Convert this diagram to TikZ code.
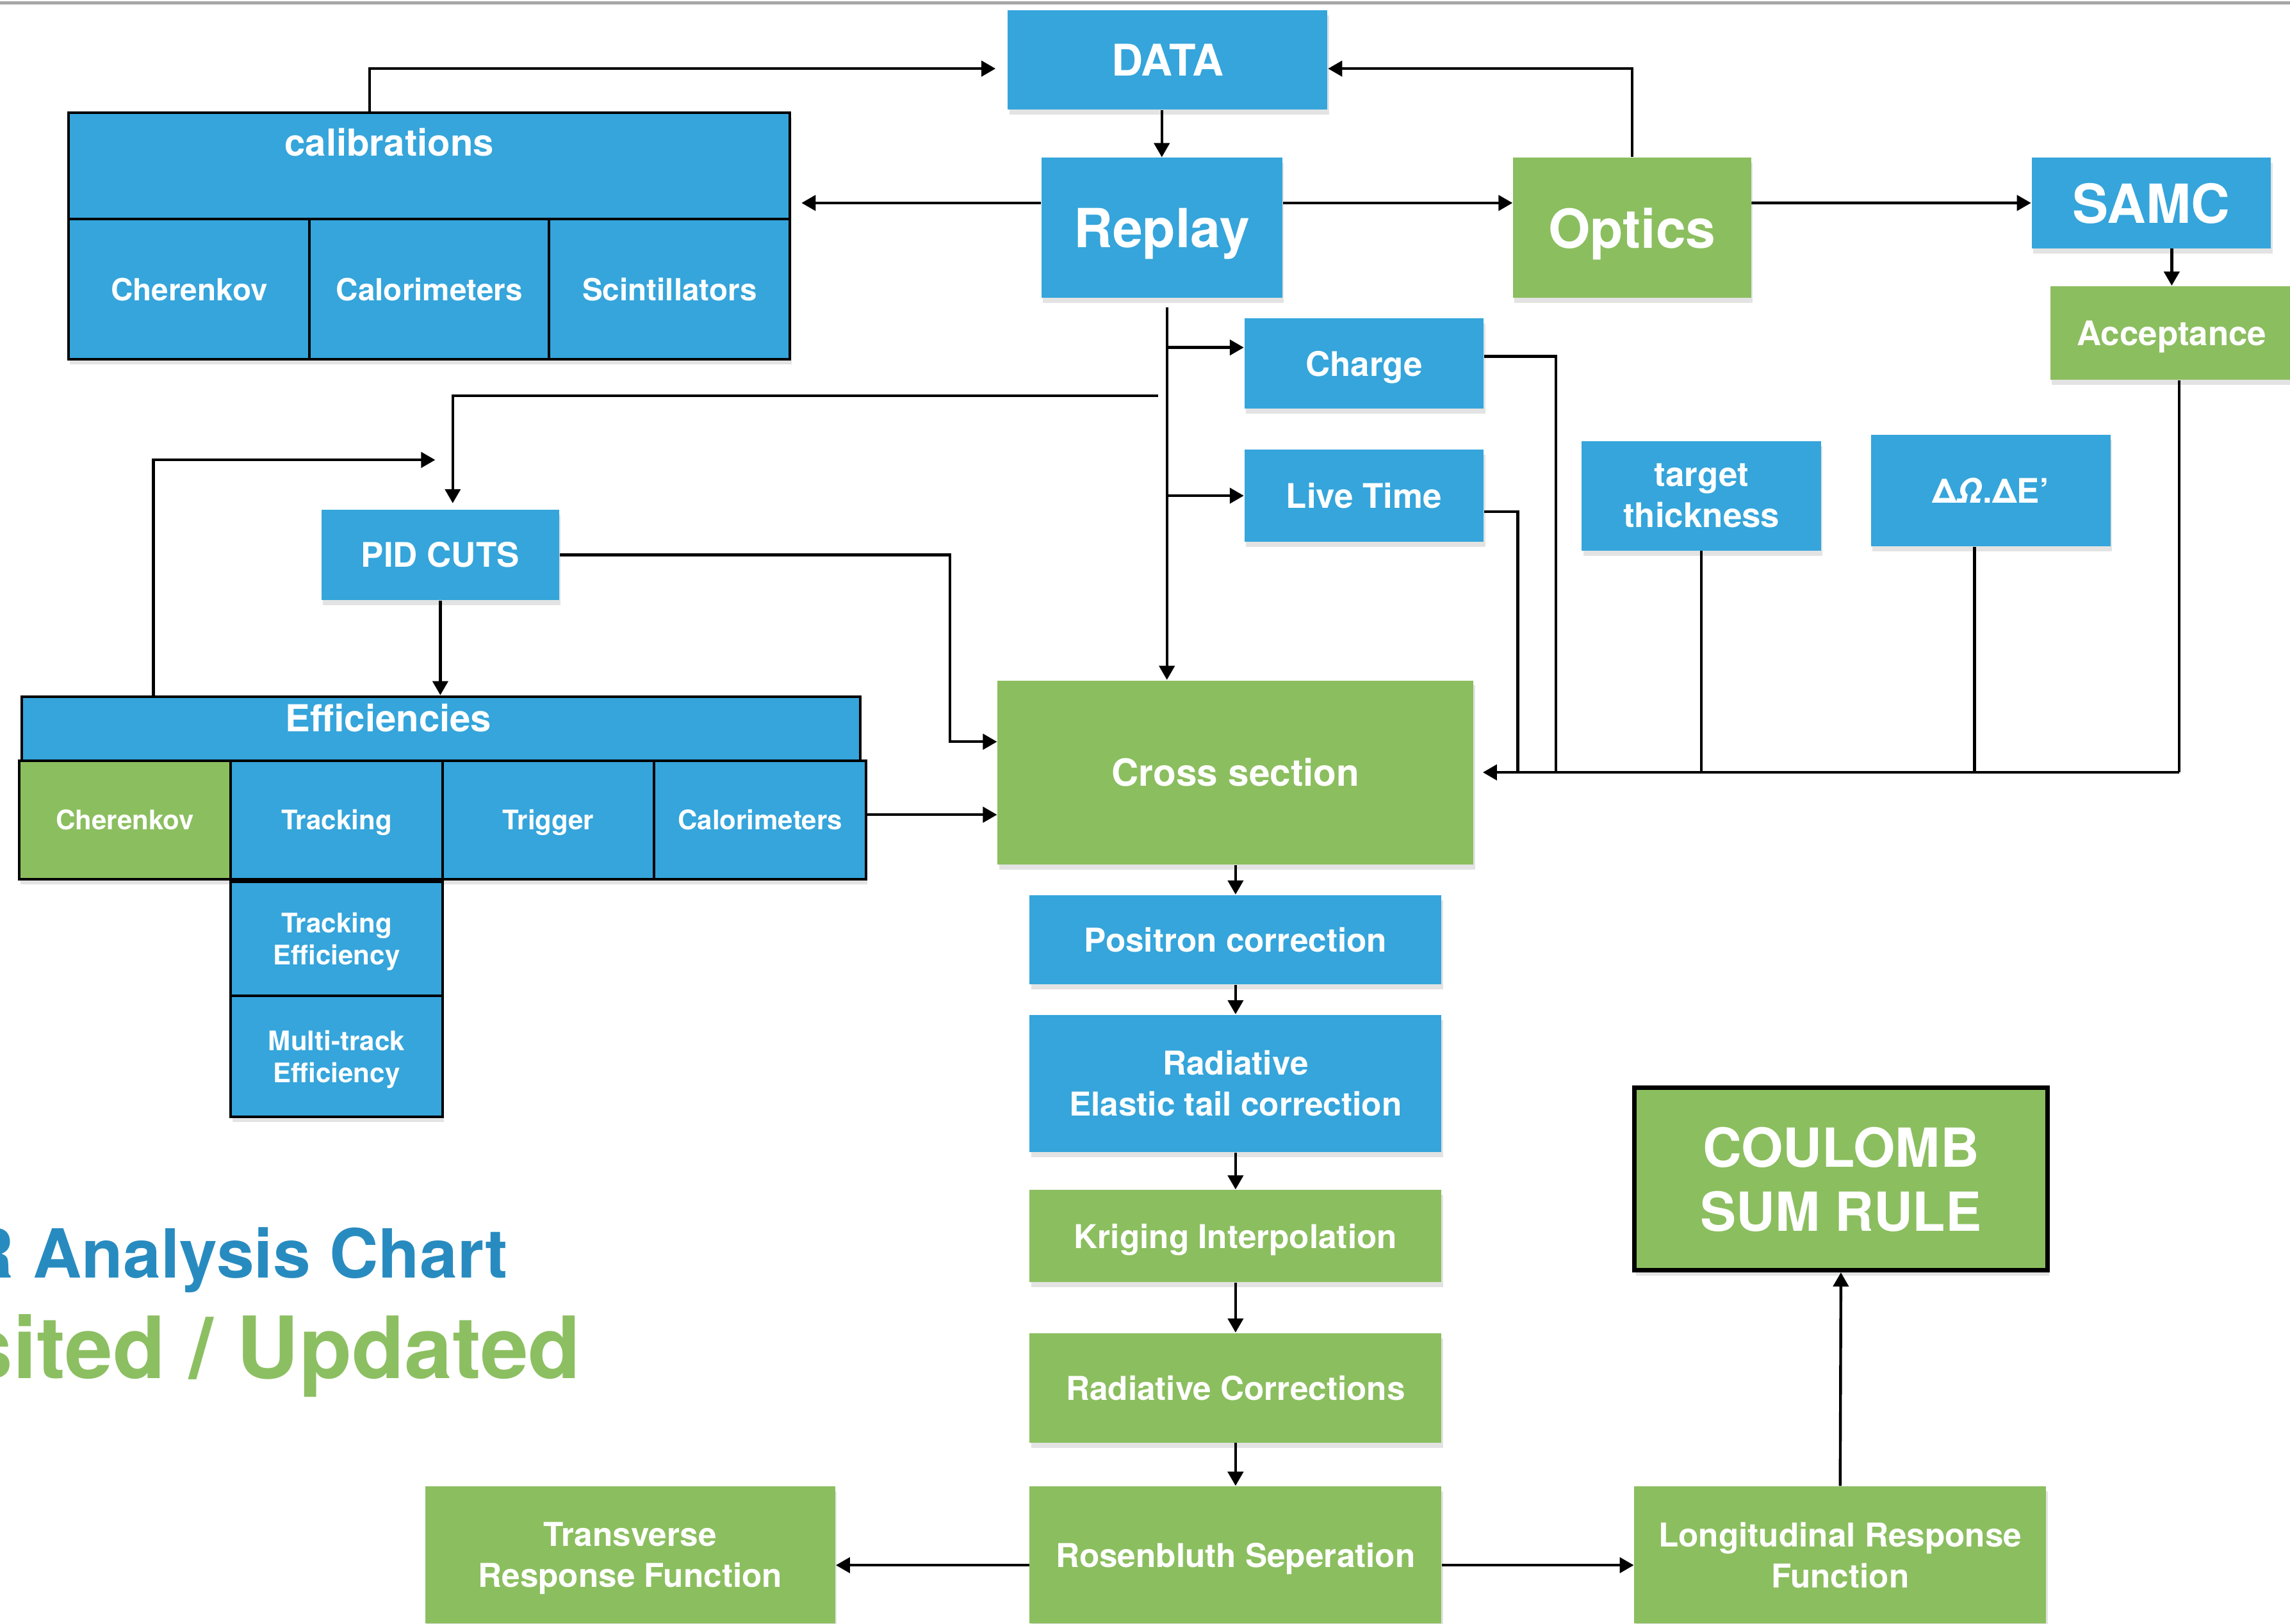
\documentclass[tikz,border=0pt]{standalone}
\usepackage{fontspec}
\setmainfont{TeX Gyre Heros}
\usetikzlibrary{arrows.meta,positioning,shadows}

\definecolor{cblue}{RGB}{53,165,219}
\definecolor{cgreen}{RGB}{139,190,95}
\definecolor{tblue}{RGB}{40,139,192}
\definecolor{tgreen}{RGB}{140,191,98}

\newcommand{\chartfont}[2]{\fontsize{#1}{#2}\selectfont\bfseries}

\begin{document}
\begin{tikzpicture}[x=0.02cm,y=-0.02cm,
  chartbox/.style={rectangle,inner sep=0pt,text=white,align=center,text depth=0pt,font=\chartfont{13.2}{16}},
  bluebox/.style={chartbox,fill=cblue,drop shadow={shadow xshift=0.02cm,shadow yshift=-0.07cm,opacity=.22}},
  greenbox/.style={chartbox,fill=cgreen,drop shadow={shadow xshift=0.02cm,shadow yshift=-0.07cm,opacity=.22}},
  cell/.style={draw=black,line width=1pt},
  wire/.style={line width=1.1pt},
  link/.style={wire,-{Triangle[length=5.5pt,width=6pt]}}]
\useasboundingbox (0,0) rectangle (1568,1112);
\draw[black!35,line width=1.2pt] (0,2) -- (1568,2);

% top row
\node[bluebox,minimum width=4.38cm,minimum height=1.36cm,font=\chartfont{17}{20}] (data) at (799.5,41) {DATA};
\node[bluebox,minimum width=3.30cm,minimum height=1.92cm,font=\chartfont{21}{24}] (replay) at (795.5,156) {Replay};
\node[greenbox,minimum width=3.26cm,minimum height=1.92cm,font=\chartfont{21}{24}] (optics) at (1117.5,156) {Optics};
\node[bluebox,minimum width=3.28cm,minimum height=1.24cm,font=\chartfont{21}{24}] (samc) at (1473,139) {SAMC};
\node[greenbox,minimum width=3.32cm,minimum height=1.28cm] (acc) at (1487,228) {Acceptance};

% normalisation inputs
\node[bluebox,minimum width=3.28cm,minimum height=1.24cm] (charge) at (934,249) {Charge};
\node[bluebox,minimum width=3.28cm,minimum height=1.26cm] (live) at (934,339.5) {Live Time};
\node[bluebox,minimum width=3.28cm,minimum height=1.50cm] (ttk) at (1165,339.5) {target\\thickness};
\node[bluebox,minimum width=3.28cm,minimum height=1.52cm] (dom) at (1363,336) {Δ\textit{Ω}.ΔE’};

% calibrations block
\node[bluebox,cell,minimum width=9.88cm,minimum height=1.46cm,font=\chartfont{14.5}{17},text height=0.6cm,text depth=0.86cm] (cal) at (294,113.5) {calibrations\hspace*{1.1cm}};
\node[bluebox,cell,minimum width=3.30cm,minimum height=1.92cm,font=\chartfont{11.9}{14}] (calch) at (129.5,198) {Cherenkov};
\node[bluebox,cell,minimum width=3.28cm,minimum height=1.92cm,font=\chartfont{11.9}{14}] (calcal) at (294,198) {Calorimeters};
\node[bluebox,cell,minimum width=3.30cm,minimum height=1.92cm,font=\chartfont{11.9}{14}] (calsc) at (458.5,198) {Scintillators};

% pid cuts and efficiencies
\node[bluebox,minimum width=3.26cm,minimum height=1.24cm] (pid) at (301.5,380) {PID CUTS};
\node[bluebox,cell,minimum width=11.48cm,minimum height=0.88cm,font=\chartfont{14.5}{17},text height=0.48cm,text depth=0.40cm] (eff) at (302,499) {Efficiencies\hspace*{1.44cm}};
\node[greenbox,cell,minimum width=2.90cm,minimum height=1.62cm,font=\chartfont{10.5}{12.5}] (ech) at (85.5,561.5) {Cherenkov};
\node[bluebox,cell,minimum width=2.90cm,minimum height=1.62cm,font=\chartfont{10.5}{12.5}] (etr) at (230.5,561.5) {Tracking};
\node[bluebox,cell,minimum width=2.90cm,minimum height=1.62cm,font=\chartfont{10.5}{12.5}] (etg) at (375.5,561.5) {Trigger};
\node[bluebox,cell,minimum width=2.90cm,minimum height=1.62cm,font=\chartfont{10.5}{12.5}] (ecal) at (520.5,561.5) {Calorimeters};
\node[bluebox,cell,minimum width=2.90cm,minimum height=1.56cm,font=\chartfont{10.5}{12.5}] (treff) at (230.5,643) {Tracking\\Efficiency};
\node[bluebox,cell,minimum width=2.90cm,minimum height=1.66cm,font=\chartfont{10.5}{12.5}] (mteff) at (230.5,723.5) {Multi-track\\Efficiency};

% analysis chain
\node[greenbox,minimum width=6.52cm,minimum height=2.52cm,font=\chartfont{14.6}{17}] (cross) at (846,529) {Cross section};
\node[bluebox,minimum width=5.64cm,minimum height=1.22cm,font=\chartfont{12.8}{16}] (posi) at (846,643.5) {Positron correction};
\node[bluebox,minimum width=5.64cm,minimum height=1.88cm,font=\chartfont{12.8}{16}] (radel) at (846,742) {Radiative\\Elastic tail correction};
\node[greenbox,minimum width=5.64cm,minimum height=1.26cm,font=\chartfont{12.8}{16}] (krig) at (846,846.5) {Kriging Interpolation};
\node[greenbox,minimum width=5.64cm,minimum height=1.50cm,font=\chartfont{12.8}{16}] (radc) at (846,950.5) {Radiative Corrections};
\node[greenbox,minimum width=5.64cm,minimum height=1.88cm,font=\chartfont{12.8}{16}] (rosen) at (846,1065) {Rosenbluth Seperation};
\node[greenbox,minimum width=5.62cm,minimum height=1.88cm,font=\chartfont{12.8}{16}] (trans) at (431.5,1065) {Transverse\\Response Function};
\node[greenbox,minimum width=5.64cm,minimum height=1.88cm,font=\chartfont{12.8}{16}] (longi) at (1260,1065) {Longitudinal Response\\Function};
\node[greenbox,draw=black,line width=1.7pt,minimum width=5.66cm,minimum height=2.50cm,font=\chartfont{21}{25}] (csr) at (1260.5,807.5) {COULOMB\\SUM RULE};

% titles
\node[anchor=base east,inner sep=0pt,text=tblue,font=\chartfont{26.4}{30}] (title) at (348,875) {R Analysis Chart};
\node[anchor=base east,inner sep=0pt,text=tgreen,font=\chartfont{33.5}{38}] (subtitle) at (398,944) {sited / Updated};

% connectors
\coordinate (tap) at ([xshift=0.07cm,yshift=-0.12cm]replay.south);
\coordinate (bus) at ([xshift=0.1cm]acc.south |- cross.east);
\coordinate (pidtap) at (793,271);
\coordinate (effret) at (298,315);

\draw[link] ([xshift=-0.82cm]cal.north) |- ([xshift=-0.16cm,yshift=-0.12cm]data.west);
\draw[link] (optics.north) |- ([yshift=-0.12cm]data.east);
\draw[link] (data.south -| replay.north) -- (replay.north);
\draw[link] ([yshift=0.34cm]replay.west) -- ([xshift=0.14cm,yshift=0.34cm]replay.west -| cal.east);
\draw[link] ([yshift=0.34cm]replay.east) -- ([yshift=0.34cm]optics.west);
\draw[link] ([yshift=0.34cm]optics.east) -- (samc.west);
\draw[link] (acc.north |- samc.south) -- (acc.north);

\draw[link] (tap) -- (tap |- cross.north);
\draw[link] ([yshift=0.22cm]charge.west -| tap) -- ([yshift=0.22cm]charge.west);
\draw[link] (live.west -| tap) -- (live.west);
\draw[link] (pidtap) -| ([xshift=0.17cm,yshift=0.08cm]pid.north);
\draw[link] ([xshift=-3.94cm]eff.north) |- (effret);
\draw[link] (pid.south) -- (pid.south |- eff.north);
\draw[link] (pid.east) -- ++(267,0) |- ([yshift=0.42cm]cross.west);
\draw[link] ([yshift=0.07cm]ecal.east) -- ([yshift=0.07cm]ecal.east -| cross.west);

\draw[wire] ([yshift=0.1cm]charge.east) -| ([xshift=0.98cm]charge.east |- bus);
\draw[wire] ([yshift=-0.22cm]live.east) -| ([xshift=0.46cm]live.east |- bus);
\draw[wire] (ttk.south) -- (ttk.south |- bus);
\draw[wire] ([xshift=-0.22cm]dom.south) -- ([xshift=-0.22cm]dom.south |- bus);
\draw[wire] ([xshift=0.1cm]acc.south) -- (bus);
\draw[link,shorten >=0.12cm] (bus) -- (cross.east);

\draw[link] (cross.south) -- (posi.north);
\draw[link] (posi.south) -- (radel.north);
\draw[link] (radel.south) -- (krig.north);
\draw[link] (krig.south) -- (radc.north);
\draw[link] (radc.south) -- (rosen.north);
\draw[link] ([yshift=-0.14cm]rosen.west) -- ([yshift=-0.14cm]trans.east);
\draw[link] ([yshift=-0.14cm]rosen.east) -- ([yshift=-0.14cm]longi.west);
\draw[link] (longi.north) -- (csr.south);
\end{tikzpicture}
\end{document}
